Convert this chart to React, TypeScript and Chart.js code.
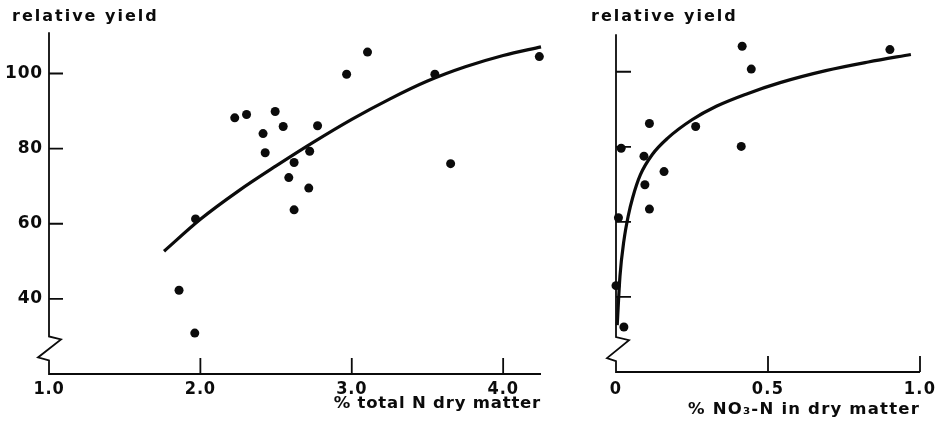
import React, { useEffect, useRef } from 'react';
import { Chart, registerables } from 'chart.js';

Chart.register(...registerables);

// ---------- Left panel: % total N in dry matter ----------
const leftPointsX = [1.859, 1.963, 1.968, 2.227, 2.305, 2.414, 2.428, 2.494, 2.547, 2.584, 2.619, 2.619, 2.716, 2.722, 2.774, 2.966, 3.104, 3.549, 3.653, 4.239];
const leftPointsY = [42.3, 30.9, 61.3, 88.2, 89.1, 84.0, 78.9, 89.9, 85.9, 72.3, 76.3, 63.7, 69.5, 79.3, 86.1, 99.8, 105.7, 99.8, 76.0, 104.5];
const leftCurveX = [1.76, 2.0, 2.25, 2.5, 2.75, 3.0, 3.25, 3.5, 3.75, 4.0, 4.25];
const leftCurveY = [52.7, 61.2, 68.7, 75.4, 81.8, 87.8, 93.2, 98.0, 101.8, 104.8, 107.1];
const leftXTicks = [1.0, 2.0, 3.0, 4.0];
const leftXTickLabels = ['1.0', '2.0', '3.0', '4.0'];

// ---------- Right panel: % NO3-N in dry matter ----------
const rightPointsX = [0.415, 0.445, 0.901, 0.110, 0.262, 0.017, 0.412, 0.092, 0.158, 0.095, 0.110, 0.008, 0.0, 0.026];
const rightPointsY = [106.8, 100.7, 105.9, 86.2, 85.4, 79.6, 80.1, 77.5, 73.4, 69.9, 63.4, 61.1, 43.0, 32.0];
const rightCurveX = [0.004, 0.013, 0.026, 0.04, 0.055, 0.08, 0.12, 0.17, 0.25, 0.33, 0.43, 0.54, 0.69, 0.83, 0.97];
const rightCurveY = [32.5, 45.5, 55.0, 61.5, 66.5, 72.5, 78.0, 82.3, 87.2, 90.8, 94.1, 97.1, 100.3, 102.6, 104.6];
const rightXTicks = [0, 0.5, 1.0];
const rightXTickLabels = ['0', '0.5', '1.0'];

// ---------- shared ----------
const yTicks = [40, 60, 80, 100];
const yTickLabels = ['40', '60', '80', '100'];
const yTitle = 'relative yield';
const leftXTitle = '% total N dry matter';
const rightXTitle = '% NO₃-N in dry matter';

const INK = '#0b0b0b';
const FAM = "'DejaVu Sans', 'Liberation Sans', sans-serif";
const FAM_COND = "'DejaVu Sans Condensed', 'DejaVu Sans', sans-serif";

type Spec = {
  px: number[]; py: number[]; cx: number[]; cy: number[];
  xMin: number; xMax: number; yMin: number; yMax: number;
  xTicks: number[]; xLabels: string[]; showYLabels: boolean;
  xTitle: string;
  canvasWidth: number; padLeft: number; padRight: number; yWidth: number; xHeight: number;
  titlePadBottom: number; xTickPad: number; xTitlePadBottom: number; xTitleSpacing: string;
  breakAt: number; zigRight: number; zigLeft: number; yTickLen: number; xTickLen: number;
};

const LEFT: Spec = {
  px: leftPointsX, py: leftPointsY, cx: leftCurveX, cy: leftCurveY,
  xMin: 1.0, xMax: 4.25, yMin: 20, yMax: 111,
  xTicks: leftXTicks, xLabels: leftXTickLabels, showYLabels: true,
  xTitle: leftXTitle,
  canvasWidth: 560, padLeft: 12, padRight: 19, yWidth: 37, xHeight: 52,
  titlePadBottom: 6, xTickPad: 5, xTitlePadBottom: 12, xTitleSpacing: '0.8px',
  breakAt: 30, zigRight: 12, zigLeft: 11, yTickLen: 14, xTickLen: 16,
};

const RIGHT: Spec = {
  px: rightPointsX, py: rightPointsY, cx: rightCurveX, cy: rightCurveY,
  xMin: 0, xMax: 1.0, yMin: 20, yMax: 110,
  xTicks: rightXTicks, xLabels: rightXTickLabels, showYLabels: false,
  xTitle: rightXTitle,
  canvasWidth: 375, padLeft: 31, padRight: 15, yWidth: 25, xHeight: 54,
  titlePadBottom: 8, xTickPad: 7, xTitlePadBottom: 6, xTitleSpacing: '1.2px',
  breakAt: 29.3, zigRight: 13, zigLeft: 9, yTickLen: 15, xTickLen: 16,
};

function axesPlugin(spec: Spec) {
  return {
    id: 'axes',
    beforeDraw(chart: any) {
      chart.ctx.letterSpacing = '2px';
    },
    beforeDatasetsDraw(chart: any) {
      const { ctx, chartArea: a, scales } = chart;
      const x = scales.x;
      const y = scales.y;
      ctx.save();
      ctx.strokeStyle = INK;
      ctx.lineWidth = 1.8;
      ctx.lineJoin = 'miter';
      ctx.lineCap = 'butt';
      const ax = a.left;
      const bt = y.getPixelForValue(spec.breakAt);
      ctx.beginPath();
      ctx.moveTo(ax, a.top);
      ctx.lineTo(ax, bt);
      ctx.lineTo(ax + spec.zigRight, bt + 3);
      ctx.lineTo(ax - spec.zigLeft, bt + 21);
      ctx.lineTo(ax, bt + 24);
      ctx.lineTo(ax, a.bottom);
      ctx.lineTo(a.right, a.bottom);
      ctx.stroke();
      ctx.beginPath();
      for (const t of y.ticks) {
        const p = y.getPixelForValue(t.value);
        ctx.moveTo(ax, p);
        ctx.lineTo(ax + spec.yTickLen, p);
      }
      for (const t of x.ticks) {
        if (t.value <= x.min) continue;
        const p = x.getPixelForValue(t.value);
        ctx.moveTo(p, a.bottom);
        ctx.lineTo(p, a.bottom - spec.xTickLen);
      }
      ctx.stroke();
      ctx.restore();
    },
    afterDatasetsDraw(chart: any) {
      chart.ctx.letterSpacing = spec.xTitleSpacing;
    },
    afterDraw(chart: any) {
      chart.ctx.letterSpacing = '0px';
    },
  };
}

function buildConfig(spec: Spec): any {
  const points = spec.px.map((v, i) => ({ x: v, y: spec.py[i] }));
  const curve = spec.cx.map((v, i) => ({ x: v, y: spec.cy[i] }));
  return {
    type: 'scatter',
    data: {
      datasets: [
        {
          data: curve,
          showLine: true,
          pointRadius: 0,
          borderColor: INK,
          borderWidth: 3.2,
          cubicInterpolationMode: 'monotone',
          clip: false,
          order: 2,
        },
        {
          data: points,
          showLine: false,
          pointRadius: 4.5,
          pointBackgroundColor: INK,
          pointBorderWidth: 0,
          clip: false,
          order: 1,
        },
      ],
    },
    options: {
      responsive: false,
      animation: false,
      devicePixelRatio: 1,
      events: [],
      layout: { padding: { left: spec.padLeft, right: spec.padRight, top: 0, bottom: 0 } },
      plugins: {
        legend: { display: false },
        tooltip: { enabled: false },
        title: {
          display: true,
          text: yTitle,
          align: 'start',
          color: INK,
          font: { family: FAM, size: 16, weight: 'bold', lineHeight: 1.2 },
          padding: { top: 7, bottom: spec.titlePadBottom },
        },
      },
      scales: {
        x: {
          type: 'linear',
          position: 'bottom',
          min: spec.xMin,
          max: spec.xMax,
          grid: { display: false, drawTicks: false, z: 1 },
          border: { display: false },
          afterBuildTicks: (s: any) => {
            s.ticks = spec.xTicks.map((v) => ({ value: v }));
          },
          ticks: {
            z: 1,
            autoSkip: false,
            maxRotation: 0,
            padding: spec.xTickPad,
            color: INK,
            font: { family: FAM_COND, size: 18, weight: 'bold', lineHeight: 1.2 },
            callback: (_v: any, i: number) => spec.xLabels[i],
          },
          title: {
            display: true,
            text: spec.xTitle,
            align: 'end',
            color: INK,
            font: { family: FAM, size: 16.5, weight: 'bold', lineHeight: 1.2 },
            padding: { top: 0, bottom: spec.xTitlePadBottom },
          },
          afterFit: (s: any) => {
            s.height = spec.xHeight;
            s.paddingLeft = 0;
            s.paddingRight = 0;
            s._computeLabelArea = () => undefined;
          },
        },
        y: {
          type: 'linear',
          position: 'left',
          min: spec.yMin,
          max: spec.yMax,
          grid: { display: false, drawTicks: false, z: 1 },
          border: { display: false },
          afterBuildTicks: (s: any) => {
            s.ticks = yTicks.map((v) => ({ value: v }));
          },
          ticks: {
            z: 1,
            display: spec.showYLabels,
            autoSkip: false,
            padding: 6,
            color: INK,
            font: { family: FAM, size: 17, weight: 'bold', lineHeight: 1.2 },
            callback: (_v: any, i: number) => yTickLabels[i],
          },
          afterFit: (s: any) => {
            s.width = spec.yWidth;
            s.paddingTop = 0;
            s.paddingBottom = 0;
            s._computeLabelArea = () => undefined;
          },
        },
      },
    },
    plugins: [axesPlugin(spec)],
  };
}

function Panel({ spec, left }: { spec: Spec; left: number }) {
  const ref = useRef<HTMLCanvasElement | null>(null);
  useEffect(() => {
    if (!ref.current) return;
    const chart = new Chart(ref.current, buildConfig(spec));
    return () => chart.destroy();
  }, [spec]);
  return (
    <canvas
      ref={ref}
      width={spec.canvasWidth}
      height={426}
      style={{ position: 'absolute', left, top: 0, width: spec.canvasWidth, height: 426 }}
    />
  );
}

export default function App() {
  return (
    <div style={{ position: 'absolute', left: 0, top: 0, width: 935, height: 426, background: '#ffffff', overflow: 'hidden' }}>
      <Panel spec={LEFT} left={0} />
      <Panel spec={RIGHT} left={560} />
    </div>
  );
}
